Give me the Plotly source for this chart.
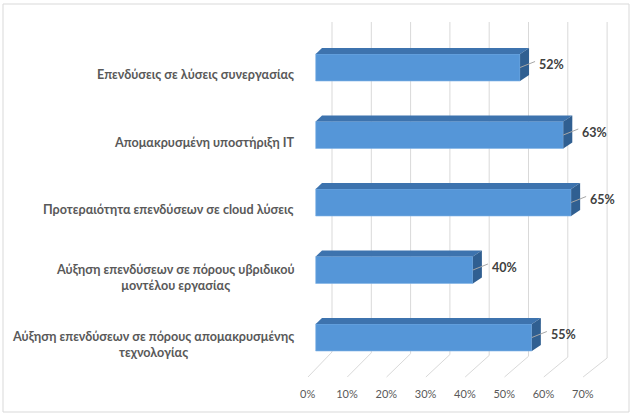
import plotly.graph_objects as go

# ---- data ----
categories = [
    "Επενδύσεις σε λύσεις συνεργασίας",
    "Απομακρυσμένη υποστήριξη IT",
    "Προτεραιότητα επενδύσεων σε cloud λύσεις",
    "Αύξηση επενδύσεων σε πόρους υβριδικού<br>μοντέλου εργασίας",
    "Αύξηση επενδύσεων σε πόρους απομακρυσμένης<br>τεχνολογίας",
]
values = [52, 63, 65, 40, 55]
tick_values = [0, 10, 20, 30, 40, 50, 60, 70]
tick_labels = ["0%", "10%", "20%", "30%", "40%", "50%", "60%", "70%"]

# ---- geometry (pixels) ----
W, H = 635, 417
L, R, T, B = 300, 625, 15, 382
X0, PX = 315.7, 3.93      # pixel of x=0, pixels per unit
Y0, PY = 337.5, 67.5      # pixel of y=0, pixels per category
BAR_W = 0.4
DX, DY = 9 / PX, 6 / PY   # depth offset of bars

def yd(py):
    return (Y0 - py) / PY

positions = [len(categories) - 1 - i for i in range(len(categories))]

FRONT = "#5596D8"
TOP = "#3D73AE"
SIDE = "#305F91"
FONT = "Lato, 'Noto Sans', sans-serif"

fig = go.Figure()
fig.add_trace(go.Bar(
    x=values, y=positions, orientation="h", width=BAR_W,
    marker=dict(color=FRONT, line=dict(width=0.6, color="#7FB2E5")),
    hoverinfo="skip",
))

shapes = []
# back wall gridlines + floor lines
for t in tick_values:
    xb = t + 16.3 / PX
    xf = t - 7.7 / PX
    ytop = yd(22)
    ybot = yd(352 + 6 * t / 70)
    yfr = yd(377)
    shapes.append(dict(
        type="path", xref="x", yref="y", layer="below",
        path=f"M {xb},{ytop} L {xb},{ybot} L {xf},{yfr}",
        line=dict(color="#D9D9D9", width=1),
    ))

annotations = []
for cat, v, p in zip(categories, values, positions):
    yt = p + BAR_W / 2
    yb = p - BAR_W / 2
    shapes.append(dict(
        type="path", xref="x", yref="y", layer="above",
        path=f"M 0,{yt} L {v},{yt} L {v+DX},{yt+DY} L {DX*0.7},{yt+DY} Z",
        fillcolor=TOP, line=dict(width=0),
    ))
    shapes.append(dict(
        type="path", xref="x", yref="y", layer="above",
        path=f"M {v},{yt} L {v+DX},{yt+DY} L {v+DX},{yb+DY} L {v},{yb} Z",
        fillcolor=SIDE, line=dict(width=0),
    ))
    # leader line
    shapes.append(dict(
        type="line", xref="x", yref="y", layer="above",
        x0=v, y0=p, x1=v + 15 / PX, y1=p + 6 / PY,
        line=dict(color="#A6A6A6", width=1),
    ))
    annotations.append(dict(
        x=v + 17 / PX, y=p + 3 / PY, xref="x", yref="y",
        text=f"<b>{v}%</b>", showarrow=False, xanchor="left", yanchor="middle",
        font=dict(family=FONT, size=12.5, color="#404040"),
    ))
    annotations.append(dict(
        x=(296 - L) / (R - L), y=p - 7 / PY, xref="paper", yref="y",
        text=f"<b>{cat}</b>", showarrow=False, xanchor="right", yanchor="middle",
        align="center",
        font=dict(family=FONT, size=12.6, color="#595959"),
    ))

# chart border
shapes.append(dict(
    type="rect", xref="paper", yref="paper",
    x0=(3 - L) / (R - L), x1=(629 - L) / (R - L),
    y0=(B - 412) / (B - T), y1=(B - 4) / (B - T),
    line=dict(color="#D9D9D9", width=1), fillcolor="rgba(0,0,0,0)",
))

fig.update_layout(
    width=W, height=H,
    margin=dict(l=L, r=W - R, t=T, b=H - B),
    paper_bgcolor="white", plot_bgcolor="white",
    showlegend=False,
    shapes=shapes, annotations=annotations,
    xaxis=dict(
        range=[(L - X0) / PX, (R - X0) / PX],
        tickvals=tick_values, ticktext=tick_labels,
        showgrid=False, zeroline=False, showline=False, ticks="",
        ticklabelshift=-8, ticklabelstandoff=4,
        tickfont=dict(family=FONT, size=11, color="#595959"),
        fixedrange=True,
    ),
    yaxis=dict(
        range=[(Y0 - B) / PY, (Y0 - T) / PY],
        showticklabels=False, showgrid=False, zeroline=False, showline=False,
        ticks="", fixedrange=True,
    ),
)

fig.write_html(
    "out.html",
    config={"displayModeBar": False},
    post_script="document.body.style.margin='0';document.body.style.overflow='hidden';",
)
